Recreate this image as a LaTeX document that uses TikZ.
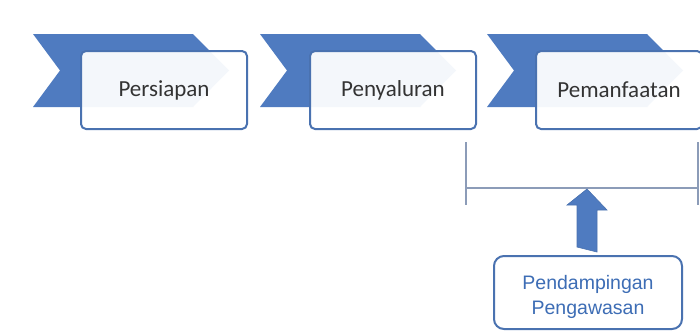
\documentclass[tikz,border=0pt]{standalone}
\usepackage{fontspec}
\setmainfont{Carlito}
\newfontfamily\arialf{Liberation Sans}
\definecolor{chevblue}{HTML}{4F7BC0}
\definecolor{edgeblue}{HTML}{4A72B0}
\definecolor{txtgray}{HTML}{333333}
\definecolor{bracketc}{HTML}{8C9CB8}
\definecolor{lowtxt}{HTML}{3D6DB5}
\begin{document}
\begin{tikzpicture}[x=1pt,y=-1pt,
  chev/.style={fill=chevblue},
  stagebox/.style={draw=edgeblue, line width=2pt, rounded corners=5pt,
    fill=white, fill opacity=0.94, text opacity=1, text=txtgray,
    minimum width=166pt, minimum height=78pt, inner sep=0pt,
    font=\fontsize{23}{26}\selectfont},
  lowbox/.style={draw=edgeblue, line width=2pt, rounded corners=10pt,
    fill=white, minimum width=188pt, minimum height=73pt, inner sep=0pt},
  lowtext/.style={text=lowtxt, align=center, inner sep=0pt,
    font=\arialf\fontsize{19.5}{25}\selectfont},
  brk/.style={draw=bracketc, line width=1.1pt},
  blockarrow/.style={fill=chevblue, draw=edgeblue, line width=0.6pt}]
\useasboundingbox (0,0) rectangle (700,333);
\clip (0,0) rectangle (700,333);
\fill[white] (0,0) rectangle (700,333);
% chevrons
\foreach \dx in {0,227,454}{
  \fill[chev] ({33+\dx},34) -- ({193+\dx},34) -- ({229+\dx},70.5) --
    ({193+\dx},107) -- ({33+\dx},107) -- ({60+\dx},70.5) -- cycle;
}
% stage boxes
\node[stagebox] (s1) at (164,90) {Persiapan};
\node[stagebox] (s2) at (393,90) {Penyaluran};
\node[stagebox] (s3) at (619,90) {Pemanfaatan};
% bracket
\coordinate (bl) at (466,188);
\coordinate (br) at (698,188);
\coordinate (blt) at (466,142);
\coordinate (blb) at (466,205);
\coordinate (brt) at (698,142);
\coordinate (brb) at (698,205);
\draw[brk] (bl) -- (br);
\draw[brk] (blt) -- (blb);
\draw[brk] (brt) -- (brb);
% bottom box
\node[lowbox] (pp) at (588,292.5) {};
\node[lowtext] (pptext) at (588,297) {Pendampingan\\Pengawasan};
% block arrow from box to bracket
\coordinate (tip) at (587,189);
\draw[blockarrow] (pp.north -| tip) ++(-10,-8) -- ++(0,-42) -- ++(-10,0)
  -- (tip) -- ++(20,21) -- ++(-10,0) -- ++(0,42) -- cycle;
\end{tikzpicture}
\end{document}
